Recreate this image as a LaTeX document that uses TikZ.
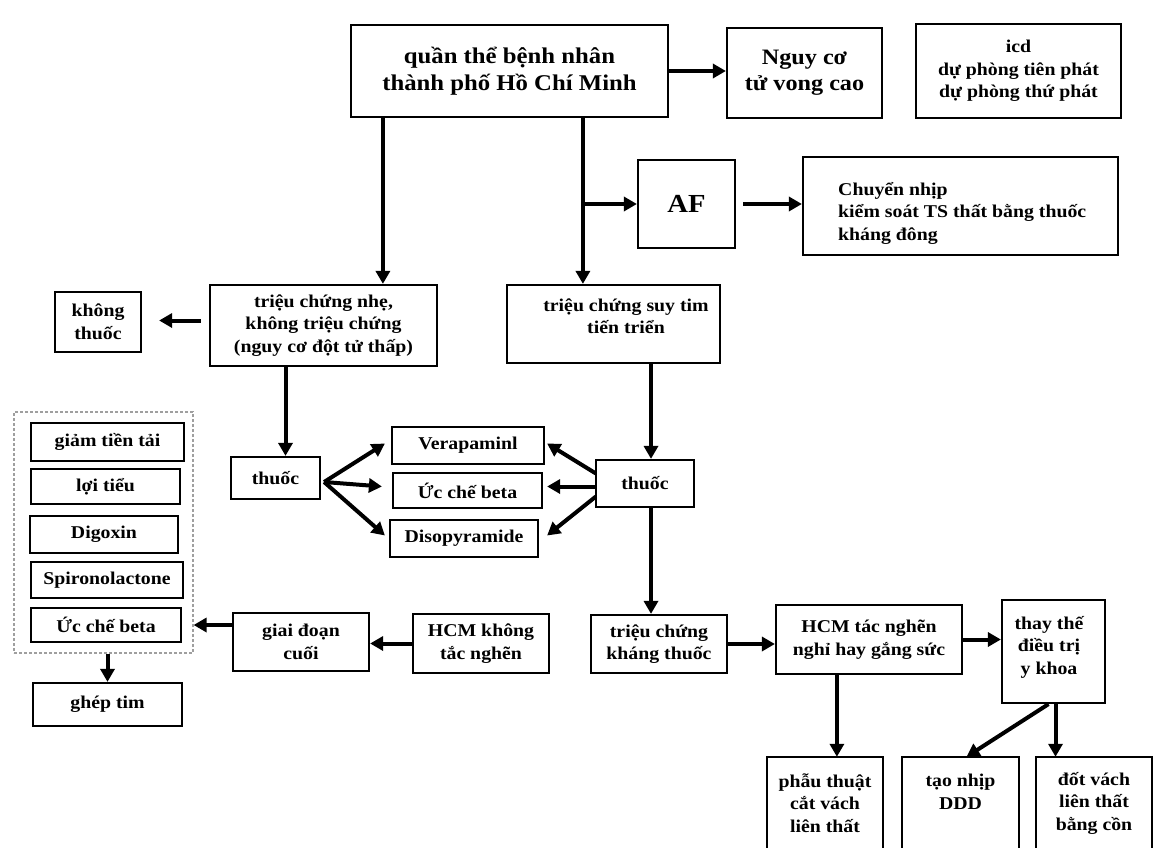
\documentclass[tikz,border=0pt]{standalone}
\usepackage{fontspec}
\setmainfont{Liberation Serif}[FakeStretch=1.1]
\usetikzlibrary{arrows.meta,calc}
\begin{document}
\begin{tikzpicture}[x=1pt,y=-1pt,
  box/.style={draw, line width=2.2pt, align=center, inner sep=0pt,
    font=\bfseries\fontsize{18}{22.5}\selectfont},
  txt/.style={align=center, inner sep=0pt, font=\bfseries\fontsize{18}{22.5}\selectfont},
  big/.style={font=\bfseries\fontsize{22}{26}\selectfont},
  openbox/.style={line width=2.2pt},
  grpbox/.style={draw=gray!75, line width=1.2pt, dash pattern=on 3pt off 2pt, inner sep=0pt},
  arr/.style={line width=4pt, -{Triangle[length=13pt,width=14pt]}},
]
\useasboundingbox (0,0) rectangle (1153,848);
\fill[white] (0,0) rectangle (1153,848);

% top row
\node[box, minimum width=317, minimum height=92, font=\bfseries\fontsize{22.5}{27}\selectfont] (top) at (509.5,71) {quần thể bệnh nhân\\thành phố Hồ Chí Minh};
\node[box, big, minimum width=155, minimum height=90] (nguy) at (804.5,73) {Nguy cơ\\tử vong cao};
\node[box, minimum width=205, minimum height=94] (icd) at (1018.5,71) {icd\\dự phòng tiên phát\\dự phòng thứ phát};

% AF row
\node[box, minimum width=97, minimum height=88, font=\bfseries\fontsize{26}{30}\selectfont] (af) at (686.5,204) {AF};
\node[box, minimum width=315, minimum height=98] (chuyen) at (960.5,206) {};
\node[txt, anchor=west, align=left] (chuyentxt) at (838,213) {Chuyển nhịp\\kiểm soát TS thất bằng thuốc\\kháng đông};

% symptom row
\node[box, minimum width=227, minimum height=81] (nhe) at (323.5,325.5) {triệu chứng nhẹ,\\không triệu chứng\\(nguy cơ đột tử thấp)};
\node[box, minimum width=86, minimum height=60] (khongt) at (98,322) {không\\thuốc};
\node[box, minimum width=213, minimum height=78] (suytim) at (613.5,324) {};
\node[txt] (suytimtxt) at (626,316) {triệu chứng suy tim\\tiến triển};

% left group
\node[grpbox, minimum width=179, minimum height=241] (grp) at (103.5,532.5) {};
\node[box, minimum width=153, minimum height=38] (giam) at (107.5,442) {giảm tiền tải};
\node[box, minimum width=149, minimum height=35] (loi) at (105.5,486.5) {lợi tiểu};
\node[box, minimum width=148, minimum height=37] (dig) at (104,534.5) {Digoxin};
\node[box, minimum width=152, minimum height=36] (spiro) at (107,580) {Spironolactone};
\node[box, minimum width=150, minimum height=34] (ucl) at (106,625) {Ức chế beta};
\node[box, minimum width=149, minimum height=43] (ghep) at (107.5,704.5) {ghép tim};

% drugs
\node[box, minimum width=89, minimum height=42] (thuocL) at (275.5,478) {thuốc};
\node[box, minimum width=152, minimum height=37] (vera) at (468,445.5) {Verapaminl};
\node[box, minimum width=149, minimum height=35] (ucm) at (467.5,490.5) {Ức chế beta};
\node[box, minimum width=148, minimum height=37] (diso) at (464,538.5) {Disopyramide};
\node[box, minimum width=98, minimum height=47] (thuocR) at (645,483.5) {thuốc};

% lower row
\node[box, minimum width=136, minimum height=58] (khang) at (659,644) {triệu chứng\\kháng thuốc};
\node[box, minimum width=186, minimum height=69] (hcmT) at (869,639.5) {HCM tác nghẽn\\nghỉ hay gắng sức};
\node[box, minimum width=103, minimum height=103] (thay) at (1053.5,651.5) {};
\node[txt] (thaytxt) at (1049,647) {thay thế\\điều trị\\y khoa};
\node[box, minimum width=136, minimum height=58] (giai) at (301,642) {giai đoạn\\cuối};
\node[box, minimum width=136, minimum height=59] (hcmK) at (481,643.5) {HCM không\\tắc nghẽn};

% bottom open boxes
\node[txt, minimum width=116, minimum height=92] (phau) at (825,803) {phẫu thuật\\cắt vách\\liên thất};
\node[txt, minimum width=117, minimum height=92] (tao) at (960.5,803) {tạo nhịp\\DDD\\~};
\node[txt, minimum width=116, minimum height=92] (dot) at (1094,803) {đốt vách\\liên thất\\bằng cồn};
\foreach \n in {phau,tao,dot}{
  \draw[openbox] (\n.south west) -- (\n.north west) -- (\n.north east) -- (\n.south east);
}

% connectors
\draw[arr] (top.east) -- (top.east -| nguy.west);
\coordinate (cl) at ($(top.south west)+(33,0)$);
\coordinate (cr) at ($(top.south west)+(233,0)$);
\draw[arr] (cl) -- (cl |- nhe.north);
\draw[arr] (cr) -- (cr |- suytim.north);
\draw[arr] (cr |- af.west) -- (af.west);
\draw[arr] ($(af.east)+(7,0)$) -- (af.east -| chuyen.west);
\draw[arr] ($(nhe.west)+(-8,-5)$) -- ($(khongt.east |- nhe.west)+(17,-5)$);

\coordinate (c3) at ($(thuocL.north)+(10,0)$);
\draw[arr] (c3 |- nhe.south) -- (c3);
\coordinate (c4) at ($(thuocR.north)+(6,0)$);
\draw[arr] (c4 |- suytim.south) -- (c4);
\draw[arr] (c4 |- thuocR.south) -- (c4 |- khang.north);

\coordinate (fl) at ($(thuocL.east)+(3,4)$);
\draw[arr] (fl) -- ($(vera.west)+(-6,-2)$);
\draw[arr] (fl) -- ($(ucm.west)+(-10,-4)$);
\draw[arr] (fl) -- ($(diso.west)+(-4,-3)$);
\draw[arr] ($(thuocR.west)+(1,-10)$) -- ($(vera.east)+(2,-2)$);
\draw[arr] ($(thuocR.west)+(1,3)$) -- ($(ucm.east)+(4,-4)$);
\draw[arr] ($(thuocR.west)+(1,13)$) -- ($(diso.east)+(8,-3)$);

\draw[arr] (khang.east) -- (khang.east -| hcmT.west);
\draw[arr] (hcmT.east) -- (hcmT.east -| thay.west);
\coordinate (c5) at ($(hcmT.south west)+(62,0)$);
\draw[arr] (c5) -- (c5 |- phau.north);
\draw[arr] ($(thay.south)+(-5,0)$) -- ($(tao.north)+(6,0)$);
\coordinate (c6) at ($(thay.south)+(2,0)$);
\draw[arr] (c6) -- (c6 |- dot.north);

\draw[arr] (hcmK.west) -- (hcmK.west -| giai.east);
\draw[arr] (giai.west |- ucl.east) -- (grp.east |- ucl.east);
\draw[arr] (grp.south -| ghep.north) -- (ghep.north);
\end{tikzpicture}
\end{document}
